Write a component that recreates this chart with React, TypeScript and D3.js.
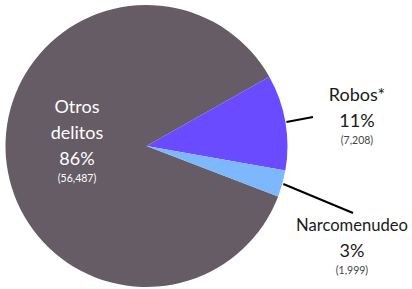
import React, { useRef, useEffect } from "react";
import * as d3 from "d3";

const categories = ["Otros delitos", "Robos*", "Narcomenudeo"];
const values = [56487, 7208, 1999];
const percentLabels = ["86%", "11%", "3%"];
const countLabels = ["(56,487)", "(7,208)", "(1,999)"];
const colors = ["#655c65", "#6a4bff", "#7db8ff"];

const App: React.FC = () => {
  const chartRef = useRef<SVGSVGElement>(null);

  useEffect(() => {
    if (!chartRef.current) return;
    const svg = d3.select(chartRef.current);
    svg.selectAll("*").remove();

    const cx = 146.5;
    const cy = 146;
    const r = 141;
    const font = "Lato, 'Open Sans', sans-serif";

    // start "Otros" just below the narcomenudeo slice
    const start = (111 * Math.PI) / 180;
    const pie = d3
      .pie<number>()
      .sort(null)
      .value((d) => d)
      .startAngle(start)
      .endAngle(start + 2 * Math.PI);
    const arcs = pie(values);
    const arc = d3.arc<d3.PieArcDatum<number>>().innerRadius(0).outerRadius(r);

    const g = svg.append("g").attr("transform", `translate(${cx},${cy})`);
    g.selectAll("path")
      .data(arcs)
      .enter()
      .append("path")
      .attr("d", arc)
      .attr("fill", (_, i) => colors[i]);

    // leader lines from slice middle to the label
    const outer = d3.arc<d3.PieArcDatum<number>>().innerRadius(r + 1).outerRadius(r + 1);
    const lineEnds: [number, number][] = [
      [0, 0],
      [313, 117],
      [353, 213],
    ];
    [1, 2].forEach((i) => {
      const a = arcs[i];
      const mid = (a.startAngle + a.endAngle) / 2;
      const p = outer.centroid({ ...a, startAngle: mid, endAngle: mid });
      svg
        .append("line")
        .attr("x1", cx + p[0])
        .attr("y1", cy + p[1])
        .attr("x2", lineEnds[i][0])
        .attr("y2", lineEnds[i][1])
        .attr("stroke", "#000")
        .attr("stroke-width", 2);
    });

    // labels
    const labelPos = [
      { x: 77, y: 113, color: "#fff", lines: ["Otros", "delitos"] },
      { x: 357, y: 101, color: "#1a1a1a", lines: ["Robos*"] },
      { x: 352, y: 231, color: "#1a1a1a", lines: ["Narcomenudeo"] },
    ];
    labelPos.forEach((lp, i) => {
      const t = svg.append("g").attr("font-family", font).attr("text-anchor", "middle").attr("fill", lp.color);
      let y = lp.y;
      lp.lines.forEach((ln) => {
        const tx = t.append("text").attr("x", lp.x).attr("y", y).attr("font-size", ln.length > 10 ? 17 : 18).text(ln);
        if (ln.length > 10) tx.attr("textLength", 112).attr("lengthAdjust", "spacingAndGlyphs");
        y += 26;
      });
      t.append("text").attr("x", lp.x).attr("y", y).attr("font-size", 18).text(percentLabels[i]);
      t.append("text")
        .attr("x", lp.x)
        .attr("y", y + 17)
        .attr("font-size", 10.5)
        .attr("fill", i === 0 ? "#fff" : "#444")
        .text(countLabels[i]);
    });
  }, []);

  return (
    <svg
      ref={chartRef}
      width="412"
      height="289"
      style={{ position: "absolute", left: 0, top: 0, background: "#fff" }}
    ></svg>
  );
};

export default App;
